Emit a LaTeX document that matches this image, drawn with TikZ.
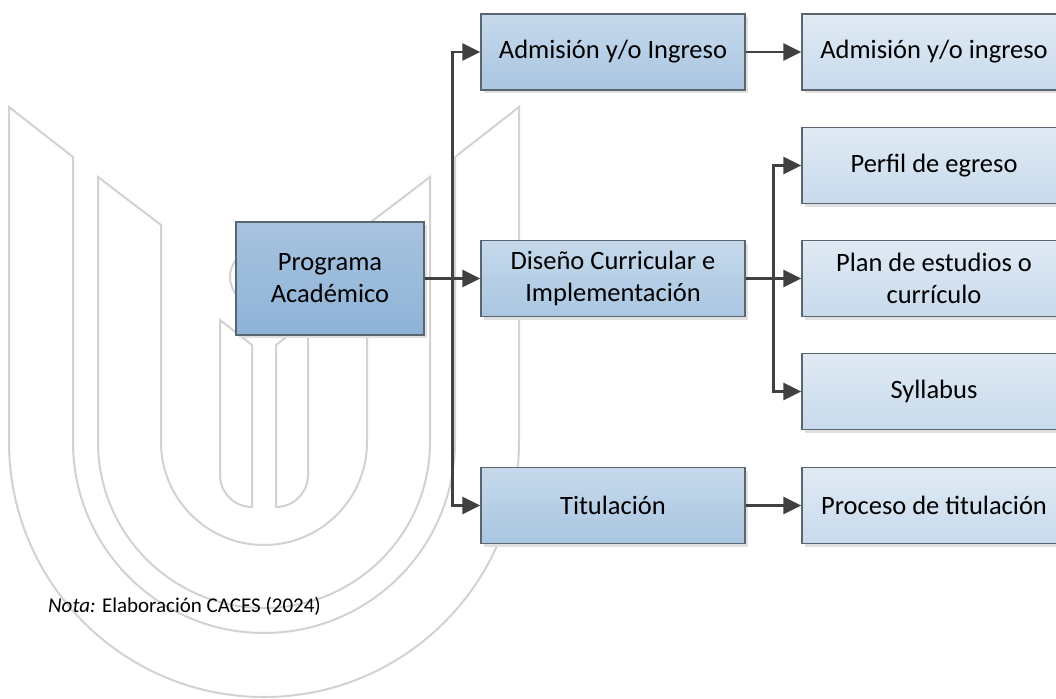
\documentclass[tikz,border=0pt]{standalone}
\usepackage{fontspec}
\setmainfont{Carlito}
\usetikzlibrary{arrows.meta,shadows}
\definecolor{progtop}{HTML}{A7C3DF}
\definecolor{progbot}{HTML}{8EB3D7}
\definecolor{midtop}{HTML}{C6D9EB}
\definecolor{midbot}{HTML}{A9C6E1}
\definecolor{leaftop}{HTML}{E0EAF4}
\definecolor{leafbot}{HTML}{C8DAEC}
\definecolor{boxline}{HTML}{5A6570}
\definecolor{connline}{HTML}{404040}
\definecolor{markline}{HTML}{D2D2D2}
\tikzset{
  box/.style={draw=boxline, line width=1.3pt, inner sep=0pt, align=center,
    minimum width=264pt, minimum height=76pt,
    font=\fontsize{26.5}{32}\selectfont,
    drop shadow={shadow xshift=3pt, shadow yshift=-3pt, fill=black!12, opacity=1}},
  progbox/.style={box, minimum width=188pt, minimum height=113pt, top color=progtop, bottom color=progbot},
  midbox/.style={box, top color=midtop, bottom color=midbot},
  leafbox/.style={box, top color=leaftop, bottom color=leafbot},
  conn/.style={draw=connline, line width=2.7pt, -{Triangle[length=18pt, width=17pt]}},
  logoline/.style={draw=markline, line width=2pt, line join=miter}
}
\begin{document}
\begin{tikzpicture}[x=1pt, y=1pt]
\useasboundingbox (0,0) rectangle (1056,-698);
\clip (0,0) rectangle (1056,-698);
% watermark
\draw[logoline] (9,-107) -- (9,-442) arc[start angle=180, end angle=360, radius=255]
  -- (519,-107) -- (455,-157) -- (455,-442) arc[start angle=0, end angle=-180, radius=191]
  -- (73,-157) -- cycle;
\draw[logoline] (98,-177) -- (98,-442) arc[start angle=180, end angle=360, radius=166]
  -- (430,-177) -- (367,-225) -- (367,-442) arc[start angle=0, end angle=-180, radius=103]
  -- (161,-225) -- cycle;
\draw[logoline] (220,-320) -- (220,-475) arc[start angle=180, end angle=270, radius=32]
  -- (252,-345) -- cycle;
\draw[logoline] (308,-320) -- (308,-475) arc[start angle=0, end angle=-90, radius=32]
  -- (276,-345) -- cycle;
\draw[logoline] (258,-277) circle[radius=28];
% boxes
\node[progbox] (prog) at (330,-278.5) {Programa\\Académico};
\node[midbox] (adm) at (613,-52) {Admisión y/o Ingreso};
\node[midbox] (dis) at (613,-278.5) {Diseño Curricular e\\Implementación};
\node[midbox] (tit) at (613,-505.5) {Titulación};
\node[leafbox] (adm2) at (934,-52) {Admisión y/o ingreso};
\node[leafbox] (perf) at (934,-165.5) {Perfil de egreso};
\node[leafbox] (plan) at (934,-278.5) {Plan de estudios o\\currículo};
\node[leafbox] (syl) at (934,-391.5) {Syllabus};
\node[leafbox] (proc) at (934,-505.5) {Proceso de titulación};
% connectors
\draw[conn] (prog.east) -- ++(28,0) |- (adm.west);
\draw[conn] (prog.east) -- (dis.west);
\draw[conn] (prog.east) -- ++(28,0) |- (tit.west);
\draw[conn] (adm.east) -- (adm2.west);
\draw[conn] (dis.east) -- ++(28,0) |- (perf.west);
\draw[conn] (dis.east) -- (plan.west);
\draw[conn] (dis.east) -- ++(28,0) |- (syl.west);
\draw[conn] (tit.east) -- (proc.west);
% note
\node[anchor=west, inner sep=0pt, font=\fontsize{21}{25}\selectfont] (nota) at (48,-606)
  {\textit{Nota:} Elaboración CACES (2024)};
\end{tikzpicture}
\end{document}
